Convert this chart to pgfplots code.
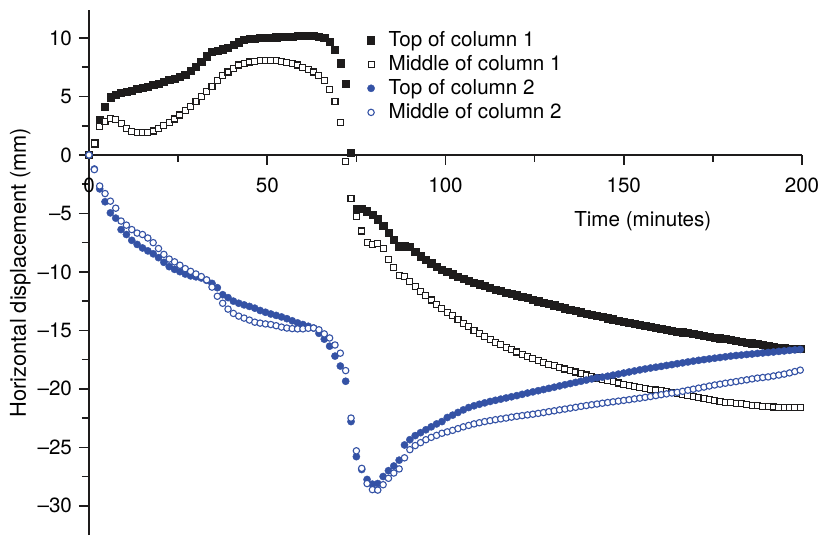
\documentclass[border=0pt]{standalone}
\usepackage{fontspec}
\setmainfont{TeX Gyre Heros}
\usepackage{pgfplots}
\pgfplotsset{compat=1.18}
\definecolor{cblue}{RGB}{52,82,165}
\definecolor{cblack}{RGB}{30,28,28}
\newcommand{\fs}{\fontsize{10.3}{12}\selectfont}
\begin{document}
\begin{tikzpicture}
\path[use as bounding box] (0,0) rectangle (411.5pt,267.5pt);
\begin{axis}[
 at={(44.5pt,0pt)}, anchor=south west,
 scale only axis, width=356.5pt, height=262.5pt,
 xmin=0, xmax=200, ymin=-32.5, ymax=12.4,
 clip=false,
 axis x line=middle, axis y line=left,
 axis line style={-, line width=0.9pt, cblack},
 hide obscured x ticks=false, hide obscured y ticks=false,
 xtick={0,50,100,150,200},
 ytick={-30,-25,-20,-15,-10,-5,0,5,10},
 yticklabels={\textendash30,\textendash25,\textendash20,\textendash15,\textendash10,\textendash5,0,5,10},
 minor x tick num=1, minor y tick num=1,
 tick align=outside,
 major tick length=5pt, minor tick length=3.5pt,
 tick style={line width=0.8pt, cblack},
 ticklabel style={font=\fs},
 xticklabel style={yshift=-3pt},
 /pgf/number format/assume math mode=true,
 xlabel={Time (minutes)},
 ylabel={Horizontal displacement (mm)},
 label style={font=\fs},
 xlabel style={at={(rel axis cs:0.7767,0.5987)}, anchor=center},
 ylabel style={at={(rel axis cs:-0.0965,0.5)}, anchor=center, font=\fontsize{10.9}{12}\selectfont},
 legend cell align=left,
 legend style={at={(axis cs:78,10.97)}, anchor=north west, draw=none, fill=none, inner sep=0pt, font=\fs, row sep=-1pt,
   /tikz/every odd column/.append style={column sep=5pt}},
]
\addplot[only marks, mark=square*, mark size=1.8pt, cblack, mark options={line width=0.2pt}] coordinates {
(0,0)(1.5,1.0)(3,3.05)(4.5,4.1)(6,4.95)(7.5,5.15)(9,5.3)(10.5,5.4)(12,5.5)(13.5,5.65)(15,5.75)(16.5,5.85)(18,6.0)(19.5,6.1)(21,6.25)(22.5,6.45)(24,6.55)(25.5,6.7)(27,6.9)(28.5,7.2)(30,7.55)(31.5,7.95)(33,8.45)(34.5,8.8)(36,8.95)(37.5,9.05)(39,9.2)(40.5,9.43)(42,9.65)(43.5,9.85)(45,9.92)(46.5,9.95)(48,10.0)(49.5,10.03)(51,10.05)(52.5,10.08)(54,10.1)(55.5,10.12)(57,10.15)(58.5,10.18)(60,10.2)(61.5,10.22)(63,10.22)(64.5,10.15)(66,10.0)(67.5,9.7)(69,9.0)(70.5,7.85)(72,6.1)(73.5,0.2)(75,-4.6)(76.5,-4.62)(78,-4.8)(79.5,-5.1)(81,-5.5)(82.5,-6.05)(84,-6.65)(85.5,-7.25)(87,-7.8)(88.5,-7.8)(90,-7.87)(91.5,-8.25)(93,-8.65)(94.5,-8.95)(96,-9.25)(97.5,-9.55)(99,-9.8)
(100.5,-10.0)(102,-10.2)(103.5,-10.4)(105,-10.6)(106.5,-10.75)(108,-10.9)(109.5,-11.05)(111,-11.2)(112.5,-11.35)(114,-11.5)(115.5,-11.6)(117,-11.75)(118.5,-11.85)(120,-12.0)(121.5,-12.1)(123,-12.2)(124.5,-12.35)(126,-12.5)(127.5,-12.6)(129,-12.75)(130.5,-12.85)(132,-12.95)(133.5,-13.1)(135,-13.25)(136.5,-13.35)(138,-13.45)(139.5,-13.55)(141,-13.65)(142.5,-13.75)(144,-13.85)(145.5,-13.95)(147,-14.05)(148.5,-14.15)(150,-14.25)
(151.5,-14.35)(153,-14.42)(154.5,-14.5)(156,-14.6)(157.5,-14.68)(159,-14.76)(160.5,-14.84)(162,-14.92)(163.5,-15.0)(165,-15.08)(166.5,-15.15)(168,-15.22)(169.5,-15.3)(171,-15.38)(172.5,-15.45)(174,-15.52)(175.5,-15.6)(177,-15.67)(178.5,-15.74)(180,-15.82)(181.5,-15.9)(183,-15.97)(184.5,-16.04)(186,-16.1)(187.5,-16.17)(189,-16.24)(190.5,-16.3)(192,-16.38)(193.5,-16.45)(195,-16.5)(196.5,-16.55)(198,-16.58)(199.5,-16.6)
};
\addplot[only marks, mark=square*, mark size=1.5pt, cblack, mark options={fill=white, line width=0.55pt}] coordinates {
(0,0)(1.5,1.0)(3,2.4)(4.5,2.85)(6,3.12)(7.5,3.05)(9,2.67)(10.5,2.27)(12,2.03)(13.5,1.93)(15,1.9)(16.5,1.94)(18,2.05)(19.5,2.3)(21,2.52)(22.5,2.78)(24,3.08)(25.5,3.42)(27,3.78)(28.5,4.17)(30,4.56)(31.5,4.98)(33,5.46)(34.5,5.89)(36,6.35)(37.5,6.8)(39,7.1)(40.5,7.42)(42,7.7)(43.5,7.84)(45,7.95)(46.5,8.03)(48,8.06)(49.5,8.06)(51,8.06)(52.5,8.05)(54,8.0)(55.5,7.9)(57,7.82)(58.5,7.7)(60,7.47)(61.5,7.34)(63,7.1)(64.5,6.8)(66,6.4)(67.5,5.6)(69,4.55)(70.5,2.75)(72,-0.55)(73.5,-3.7)(75,-5.25)(76.5,-6.5)(78,-7.5)(79.5,-7.65)(81,-7.58)(82.5,-8.0)(84,-8.95)(85.5,-9.6)(87,-10.3)(88.5,-10.4)(90,-10.8)(91.5,-11.25)(93,-11.7)(94.5,-12.0)(96,-12.4)(97.5,-12.75)(99,-13.1)
(100.5,-13.45)(102,-13.75)(103.5,-14.05)(105,-14.4)(106.5,-14.7)(108,-15.0)(109.5,-15.28)(111,-15.52)(112.5,-15.75)(114,-16.0)(115.5,-16.22)(117,-16.45)(118.5,-16.65)(120,-16.85)(121.5,-17.03)(123,-17.22)(124.5,-17.4)(126,-17.57)(127.5,-17.72)(129,-17.88)(130.5,-18.02)(132,-18.16)(133.5,-18.3)(135,-18.43)(136.5,-18.56)(138,-18.7)(139.5,-18.82)(141,-18.95)(142.5,-19.07)(144,-19.18)(145.5,-19.28)(147,-19.4)(148.5,-19.5)(150,-19.6)
(151.5,-19.7)(153,-19.8)(154.5,-19.9)(156,-19.97)(157.5,-20.03)(159,-20.1)(160.5,-20.18)(162,-20.26)(163.5,-20.32)(165,-20.42)(166.5,-20.5)(168,-20.6)(169.5,-20.68)(171,-20.76)(172.5,-20.84)(174,-20.92)(175.5,-21.0)(177,-21.08)(178.5,-21.13)(180,-21.18)(181.5,-21.23)(183,-21.28)(184.5,-21.33)(186,-21.4)(187.5,-21.45)(189,-21.5)(190.5,-21.53)(192,-21.55)(193.5,-21.56)(195,-21.57)(196.5,-21.58)(198,-21.6)(199.5,-21.62)
};
\addplot[only marks, mark=*, mark size=1.8pt, cblue, mark options={line width=0.2pt}] coordinates {
(0,0)(1.5,-1.2)(3,-2.9)(4.5,-4.0)(6,-4.95)(7.5,-5.4)(9,-6.38)(10.5,-6.8)(12,-7.3)(13.5,-7.65)(15,-7.95)(16.5,-8.2)(18,-8.45)(19.5,-8.78)(21,-9.18)(22.5,-9.55)(24,-9.78)(25.5,-9.98)(27,-10.18)(28.5,-10.34)(30,-10.42)(31.5,-10.52)(33,-10.72)(34.5,-10.98)(36,-11.35)(37.5,-11.95)(39,-12.2)(40.5,-12.5)(42,-12.68)(43.5,-12.82)(45,-12.95)(46.5,-13.1)(48,-13.3)(49.5,-13.45)(51,-13.6)(52.5,-13.72)(54,-13.85)(55.5,-14.0)(57,-14.18)(58.5,-14.36)(60,-14.5)(61.5,-14.65)(63,-14.8)(64.5,-15.25)(66,-15.75)(67.5,-16.35)(69,-17.2)(70.5,-18.05)(72,-19.35)(73.5,-22.8)(75,-25.8)(76.5,-26.9)(78,-27.75)(79.5,-28.15)(81,-28.1)(82.5,-27.5)(84,-27.0)(85.5,-26.6)(87,-26.1)(88.5,-24.8)(90,-24.35)(91.5,-24.0)(93,-23.75)(94.5,-23.5)(96,-23.25)(97.5,-23.0)(99,-22.8)
(100.5,-22.45)(102,-22.25)(103.5,-22.02)(105,-21.8)(106.5,-21.6)(108,-21.45)(109.5,-21.32)(111,-21.2)(112.5,-21.08)(114,-20.98)(115.5,-20.88)(117,-20.78)(118.5,-20.68)(120,-20.58)(121.5,-20.47)(123,-20.36)(124.5,-20.26)(126,-20.16)(127.5,-20.06)(129,-19.96)(130.5,-19.86)(132,-19.75)(133.5,-19.65)(135,-19.55)(136.5,-19.45)(138,-19.35)(139.5,-19.25)(141,-19.15)(142.5,-19.05)(144,-19.0)(145.5,-18.92)(147,-18.83)(148.5,-18.74)(150,-18.65)
(151.5,-18.56)(153,-18.47)(154.5,-18.38)(156,-18.3)(157.5,-18.22)(159,-18.15)(160.5,-18.08)(162,-18.0)(163.5,-17.93)(165,-17.85)(166.5,-17.78)(168,-17.7)(169.5,-17.63)(171,-17.56)(172.5,-17.5)(174,-17.44)(175.5,-17.38)(177,-17.32)(178.5,-17.26)(180,-17.2)(181.5,-17.15)(183,-17.11)(184.5,-17.06)(186,-17.02)(187.5,-16.97)(189,-16.93)(190.5,-16.89)(192,-16.85)(193.5,-16.8)(195,-16.76)(196.5,-16.71)(198,-16.67)(199.5,-16.63)
};
\addplot[only marks, mark=*, mark size=1.6pt, cblue, mark options={fill=white, line width=0.55pt}] coordinates {
(0,0)(1.5,-1.25)(3,-2.65)(4.5,-3.3)(6,-3.95)(7.5,-4.55)(9,-5.65)(10.5,-6.0)(12,-6.38)(13.5,-6.68)(15,-6.8)(16.5,-7.1)(18,-7.5)(19.5,-8.0)(21,-8.5)(22.5,-8.9)(24,-9.14)(25.5,-9.43)(27,-9.72)(28.5,-9.95)(30,-10.18)(31.5,-10.4)(33,-10.68)(34.5,-11.3)(36,-12.08)(37.5,-12.68)(39,-13.18)(40.5,-13.55)(42,-13.78)(43.5,-13.95)(45,-14.12)(46.5,-14.3)(48,-14.38)(49.5,-14.45)(51,-14.5)(52.5,-14.6)(54,-14.72)(55.5,-14.8)(57,-14.85)(58.5,-14.87)(60,-14.87)(61.5,-14.82)(63,-14.8)(64.5,-14.95)(66,-15.3)(67.5,-15.65)(69,-16.25)(70.5,-16.95)(72,-18.44)(73.5,-22.5)(75,-25.3)(76.5,-26.8)(78,-28.1)(79.5,-28.62)(81,-28.66)(82.5,-28.2)(84,-27.65)(85.5,-27.2)(87,-26.85)(88.5,-25.9)(90,-25.2)(91.5,-24.85)(93,-24.6)(94.5,-24.35)(96,-24.15)(97.5,-23.98)(99,-23.8)
(100.5,-23.68)(102,-23.55)(103.5,-23.4)(105,-23.25)(106.5,-23.13)(108,-23.0)(109.5,-22.9)(111,-22.8)(112.5,-22.72)(114,-22.64)(115.5,-22.57)(117,-22.5)(118.5,-22.42)(120,-22.35)(121.5,-22.29)(123,-22.23)(124.5,-22.17)(126,-22.1)(127.5,-22.03)(129,-21.95)(130.5,-21.88)(132,-21.8)(133.5,-21.73)(135,-21.65)(136.5,-21.58)(138,-21.5)(139.5,-21.43)(141,-21.36)(142.5,-21.3)(144,-21.23)(145.5,-21.17)(147,-21.11)(148.5,-21.05)(150,-20.99)
(151.5,-20.93)(153,-20.86)(154.5,-20.8)(156,-20.73)(157.5,-20.66)(159,-20.58)(160.5,-20.5)(162,-20.43)(163.5,-20.36)(165,-20.3)(166.5,-20.21)(168,-20.12)(169.5,-20.03)(171,-19.94)(172.5,-19.85)(174,-19.76)(175.5,-19.67)(177,-19.6)(178.5,-19.52)(180,-19.45)(181.5,-19.38)(183,-19.3)(184.5,-19.23)(186,-19.15)(187.5,-19.08)(189,-19.03)(190.5,-18.98)(192,-18.9)(193.5,-18.82)(195,-18.74)(196.5,-18.64)(198,-18.52)(199.5,-18.4)
};
\legend{Top of column 1, Middle of column 1, Top of column 2, Middle of column 2}
\end{axis}
\end{tikzpicture}
\end{document}
